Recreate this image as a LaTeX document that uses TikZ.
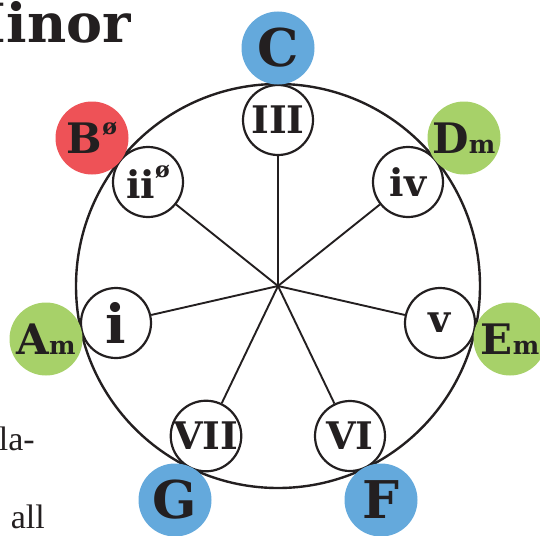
\documentclass[tikz,border=0pt]{standalone}
\usepackage{fontspec}
\setmainfont{DejaVu Serif}
\newfontfamily\bodyfont{Liberation Serif}
\definecolor{ink}{HTML}{231F20}
\definecolor{keyblue}{HTML}{64A9DC}
\definecolor{keygreen}{HTML}{A7D169}
\definecolor{keyred}{HTML}{EE5257}
\newcommand{\halfdim}[1]{\raisebox{#1}{\fontsize{22}{22}\selectfont ø}}
\newcommand{\minsuffix}{{\fontsize{25}{25}\selectfont m}}

\begin{document}
\begin{tikzpicture}[x=1pt, y=1pt,
        degree/.style={circle, draw=ink, line width=2.2pt, fill=white, minimum size=70pt, inner sep=0pt, text=ink, font=\fontsize{38}{38}\selectfont\bfseries},
        chord/.style={circle, minimum size=73pt, inner sep=0pt, text=ink, font=\fontsize{42}{42}\selectfont\bfseries},
        bigchord/.style={chord, font=\fontsize{52}{52}\selectfont\bfseries},
        spoke/.style={draw=ink, line width=1.9pt}
    ]
        \useasboundingbox (0,0) rectangle (540,-535);

        % title and page text cut by the frame
        \node[anchor=base east, inner sep=0pt, text=ink, font=\fontsize{54}{54}\selectfont\bfseries] (title) at (131,-43) {Minor};
        \node[anchor=base east, inner sep=0pt, text=ink, font=\bodyfont\fontsize{34}{34}\selectfont] (textla) at (35,-450) {la-};
        \node[anchor=base east, inner sep=0pt, text=ink, font=\bodyfont\fontsize{34}{34}\selectfont] (textall) at (45,-528) {all};

        % the wheel
        \coordinate (ctr) at (278,-286);
        \node[circle, draw=ink, line width=2.4pt, minimum size=404pt, inner sep=0pt] (wheel) at (ctr) {};

        % scale degrees
        \node[degree] (deg3) at (278,-120) {III};
        \node[degree] (deg4) at (408,-182) {iv};
        \node[degree] (deg5) at (440,-323) {v};
        \node[degree] (deg6) at (350,-436) {VI};
        \node[degree] (deg7) at (206,-436) {VII};
        \node[degree, font=\fontsize{54}{54}\selectfont\bfseries] (deg1) at (116,-323) {i};
        \node[degree] (deg2) at (148,-182) {ii\halfdim{21pt}};

        \draw[spoke] (ctr) -- (deg3);
        \draw[spoke] (ctr) -- (deg4);
        \draw[spoke] (ctr) -- (deg5);
        \draw[spoke] (ctr) -- (deg6);
        \draw[spoke] (ctr) -- (deg7);
        \draw[spoke] (ctr) -- (deg1);
        \draw[spoke] (ctr) -- (deg2);

        % chords of A minor
        \node[bigchord, fill=keyblue] (chC) at (278,-48) {C};
        \node[chord, fill=keygreen] (chD) at (464,-138) {D\minsuffix};
        \node[chord, fill=keygreen] (chE) at (510,-339) {E\minsuffix};
        \node[bigchord, fill=keyblue] (chF) at (381,-500) {F};
        \node[bigchord, fill=keyblue] (chG) at (175,-500) {G};
        \node[chord, fill=keygreen] (chA) at (46,-339) {A\minsuffix};
        \node[chord, fill=keyred] (chB) at (92,-138) {B\halfdim{19pt}};
    \end{tikzpicture}
\end{document}
